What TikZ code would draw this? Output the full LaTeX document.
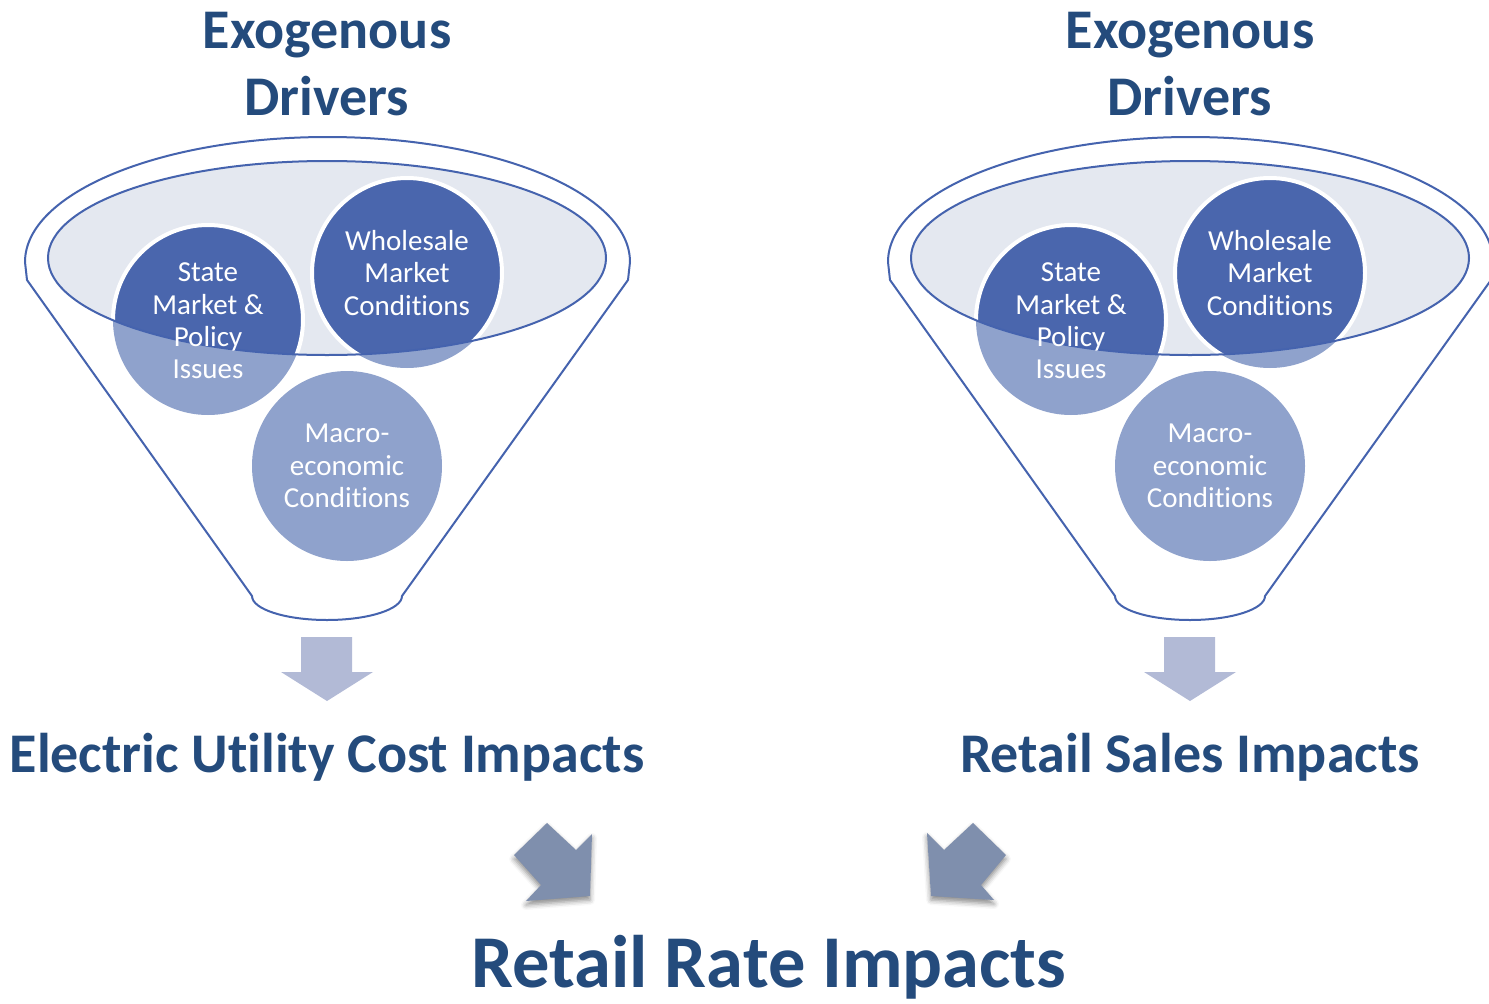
\documentclass[tikz,border=0pt]{standalone}
\usepackage{fontspec}
\setmainfont{Carlito}[Ligatures=NoCommon]
\usetikzlibrary{shadows.blur}
\definecolor{titleblue}{HTML}{244B7C}
\definecolor{rimblue}{HTML}{4563AE}
\definecolor{ellfill}{HTML}{E4E8F0}
\definecolor{darkc}{HTML}{4A66AD}
\definecolor{lightc}{HTML}{8FA2CC}
\definecolor{downarr}{HTML}{B2BAD6}
\definecolor{diagarr}{HTML}{7F8FAD}
\tikzset{
  rim/.style={draw=rimblue, line width=2pt},
  titletext/.style={text=titleblue, inner sep=0pt, align=center, font=\fontsize{56}{67}\selectfont\bfseries},
  bigtitle/.style={text=titleblue, inner sep=0pt, font=\fontsize{74.5}{84}\selectfont\bfseries},
  circtext/.style={text=white, inner sep=0pt, align=center, font=\fontsize{29}{32.3}\selectfont},
  downarrow/.style={fill=downarr},
  diagarrow/.style={fill=diagarr, blur shadow={shadow xshift=0pt, shadow yshift=-4pt, shadow blur radius=5pt, shadow opacity=45}},
}
\newcommand{\myfunnel}[1]{%
  \draw[rim, fill=white] (25,262) arc[start angle=180, end angle=360, x radius=302.5, y radius=125]
     -- (628,280) -- (402,596) arc[start angle=0, end angle=180, x radius=75, y radius=24]
     -- (27,280) -- cycle;
  \fill[ellfill] (327,258) ellipse[x radius=279, y radius=97];
  \fill[lightc] (208,320) circle[radius=95];
  \fill[lightc] (407,273) circle[radius=95];
  \fill[lightc] (347,466) circle[radius=95];
  \begin{scope}
    \clip (327,258) ellipse[x radius=279, y radius=97];
    \filldraw[fill=darkc, draw=white, line width=4pt] (208,320) circle[radius=95];
    \filldraw[fill=darkc, draw=white, line width=4pt] (407,273) circle[radius=95];
  \end{scope}
  \draw[rim] (327,258) ellipse[x radius=279, y radius=97];
  \node[circtext] (#1state) at (208,321) {State\\Market \&\\Policy\\Issues};
  \node[circtext] (#1whole) at (407,273) {Wholesale\\Market\\Conditions};
  \node[circtext] (#1macro) at (347,466) {Macro-\\economic\\Conditions};
  \node[titletext, anchor=north] (#1title) at (327,12) {Exogenous\\Drivers};
  \fill[downarrow] (301,637) -- (352,637) -- (352,672) -- (373,672) -- (327,701) -- (281,672) -- (301,672) -- cycle;
}
\begin{document}
\begin{tikzpicture}[x=1pt, y=-1pt]
\useasboundingbox (0,0) rectangle (1489,1004);
\clip (0,0) rectangle (1489,1004);
\begin{scope}
  \myfunnel{L}
\end{scope}
\begin{scope}[xshift=863pt]
  \myfunnel{R}
\end{scope}
\node[titletext, anchor=base] (costimp) at (327,772) {Electric Utility Cost Impacts};
\node[titletext, anchor=base] (salesimp) at (1190,772) {Retail Sales Impacts};
\node[bigtitle, anchor=base] (rateimp) at (769,987) {Retail Rate Impacts};
\fill[diagarrow] (514,855) -- (547,823) -- (576,850) -- (592,834) -- (590,896) -- (526,901) -- (541,885) -- cycle;
\fill[diagarrow] (927,833) -- (944,850) -- (973,823) -- (1006,855) -- (981,885) -- (994,900) -- (931,896) -- cycle;
\end{tikzpicture}
\end{document}
